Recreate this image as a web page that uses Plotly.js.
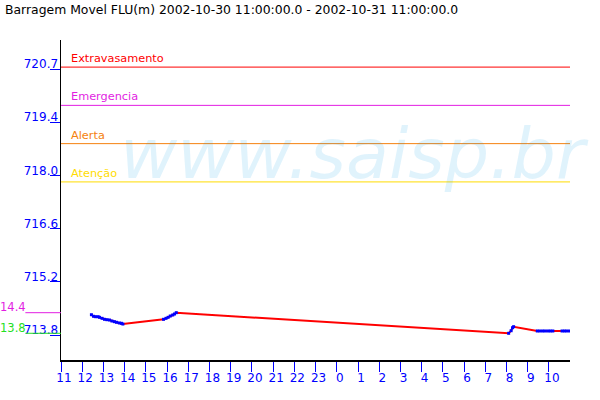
<!DOCTYPE html>
<html>
<head>
<meta charset="utf-8">
<script src="https://cdn.plot.ly/plotly-3.0.1.min.js"></script>
<style>html,body{margin:0;padding:0;background:#fff;}#chart{width:600px;height:400px;}</style>
</head>
<body>
<div id="chart"></div>
<script>
// ---- data ----
const chartTitle = 'Barragem Movel FLU(m) 2002-10-30 11:00:00.0 - 2002-10-31 11:00:00.0';
const readingTimes = [
  '2002-10-30 12:26','2002-10-30 12:32','2002-10-30 12:38','2002-10-30 12:45','2002-10-30 12:49',
  '2002-10-30 12:56','2002-10-30 13:03','2002-10-30 13:10','2002-10-30 13:17','2002-10-30 13:24',
  '2002-10-30 13:31','2002-10-30 13:37','2002-10-30 13:45','2002-10-30 13:51','2002-10-30 13:55',
  '2002-10-30 15:50','2002-10-30 15:57','2002-10-30 16:03','2002-10-30 16:09','2002-10-30 16:16',
  '2002-10-30 16:21','2002-10-30 16:26',
  '2002-10-31 08:06','2002-10-31 08:13','2002-10-31 08:17','2002-10-31 08:20',
  '2002-10-31 09:27','2002-10-31 09:34','2002-10-31 09:42','2002-10-31 09:49','2002-10-31 09:57',
  '2002-10-31 10:04','2002-10-31 10:11',
  '2002-10-31 10:37','2002-10-31 10:44','2002-10-31 10:51','2002-10-31 10:59'
];
const readingLevels = [
  714.330,714.289,714.278,714.278,714.262,
  714.236,714.210,714.200,714.192,714.166,
  714.148,714.132,714.114,714.106,714.087,
  714.210,714.236,714.262,714.296,714.323,
  714.349,714.383,
  713.845,713.912,713.991,714.017,
  713.905,713.905,713.905,713.905,713.905,
  713.905,713.905,
  713.905,713.905,713.905,713.905
];
const thresholdNames = ['Extravasamento','Emergencia','Alerta','Aten\u00e7\u00e3o'];
const thresholdLevels = [720.8, 719.8, 718.8, 717.8];
const yTickVals = [713.8, 715.19, 716.58, 717.97, 719.36, 720.75];
const yTickText = ['713.8','715.2','716.6','718.0','719.4','720.7'];
const xStart = '2002-10-30 11:00';
const xEnd = '2002-10-31 10:59:30';
const watermarkText = 'www.saisp.br';

// ---- styles ----
const thresholdColors = ['#ff0000','#e21ee2','#f5820f','#ffdc00'];
const FONT = 'DejaVu Sans, Verdana, sans-serif';
const BLUE = '#0000ff';

// measured runs (blue) connect readings closer than 15 min
const maxGapMs = 15*60*1000;
const blueX = [], blueY = [];
for (let i = 0; i < readingTimes.length; i++) {
  if (i > 0) {
    const gap = new Date(readingTimes[i].replace(' ','T')) - new Date(readingTimes[i-1].replace(' ','T'));
    if (gap > maxGapMs) { blueX.push(null); blueY.push(null); }
  }
  blueX.push(readingTimes[i]); blueY.push(readingLevels[i]);
}
const maxLevel = Math.max(...readingLevels);
const minLevel = Math.min(...readingLevels);

const traces = [
  {x: readingTimes, y: readingLevels, type: 'scatter', mode: 'lines',
   line: {color: '#ff0000', width: 2}, hoverinfo: 'skip', showlegend: false},
  {x: blueX, y: blueY, type: 'scatter', mode: 'lines+markers', connectgaps: false,
   line: {color: BLUE, width: 1}, marker: {color: BLUE, size: 3, symbol: 'square'},
   hoverinfo: 'skip', showlegend: false}
];

const shapes = thresholdLevels.map((v, i) => ({
  type: 'line', xref: 'paper', x0: 0, x1: 1, yref: 'y', y0: v, y1: v,
  line: {color: thresholdColors[i], width: 1}
}));
shapes.push({type: 'line', xref: 'paper', x0: -0.07, x1: 0, yref: 'y', y0: maxLevel, y1: maxLevel,
  line: {color: '#e21ee2', width: 1}});
shapes.push({type: 'line', xref: 'paper', x0: -0.07, x1: 0, yref: 'y', y0: minLevel, y1: minLevel,
  line: {color: '#22e022', width: 1}});

const annotations = [
  {text: watermarkText, xref: 'paper', yref: 'paper', x: 0.112, y: 0.508, xanchor: 'left', yanchor: 'bottom',
   showarrow: false, font: {family: FONT, size: 70, style: 'italic', color: 'rgba(0,160,230,0.12)'}}
];
thresholdNames.forEach((n, i) => annotations.push({
  text: n, xref: 'paper', yref: 'y', x: 0.016, y: thresholdLevels[i], xanchor: 'left', yanchor: 'bottom',
  showarrow: false, font: {family: FONT, size: 11.3, color: thresholdColors[i]}
}));
annotations.push({text: (maxLevel - 700).toFixed(1), xref: 'paper', yref: 'y', x: -0.124, y: maxLevel,
  xanchor: 'left', yanchor: 'bottom', yshift: -3, showarrow: false, font: {family: FONT, size: 11.5, color: '#e21ee2'}});
annotations.push({text: (minLevel - 700).toFixed(1), xref: 'paper', yref: 'y', x: -0.124, y: minLevel,
  xanchor: 'left', yanchor: 'bottom', yshift: -4, showarrow: false, font: {family: FONT, size: 11.5, color: '#22e022'}});

const layout = {
  width: 600, height: 400,
  margin: {l: 61, r: 30, t: 40, b: 40},
  paper_bgcolor: '#ffffff', plot_bgcolor: '#ffffff',
  font: {family: FONT, size: 12, color: '#000000'},
  title: {text: chartTitle, x: 5/600, xanchor: 'left', xref: 'container', y: 1 - 10/400, yanchor: 'middle', yref: 'container',
    font: {family: FONT, size: 12.4, color: '#000000'}},
  showlegend: false,
  xaxis: {type: 'date', range: [xStart, xEnd], tick0: xStart, dtick: 3600000, tickformat: '%-H',
    showgrid: false, zeroline: false, showline: true, linecolor: '#000000', linewidth: 1.5,
    ticks: 'outside', ticklen: 10, tickcolor: BLUE, tickwidth: 1, ticklabelshift: 3, ticklabelstandoff: -4,
    tickfont: {family: FONT, size: 12, color: BLUE}},
  yaxis: {range: [713.147, 721.508], tickmode: 'array', tickvals: yTickVals, ticktext: yTickText,
    showgrid: false, zeroline: false, showline: true, linecolor: '#000000', linewidth: 1.5,
    ticks: 'outside', ticklen: 10, tickcolor: BLUE, tickwidth: 1,
    ticklabelstandoff: -11, ticklabelshift: -5,
    tickfont: {family: FONT, size: 12, color: BLUE}},
  shapes: shapes,
  annotations: annotations
};

Plotly.newPlot('chart', traces, layout, {staticPlot: true, displayModeBar: false});
</script>
</body>
</html>
